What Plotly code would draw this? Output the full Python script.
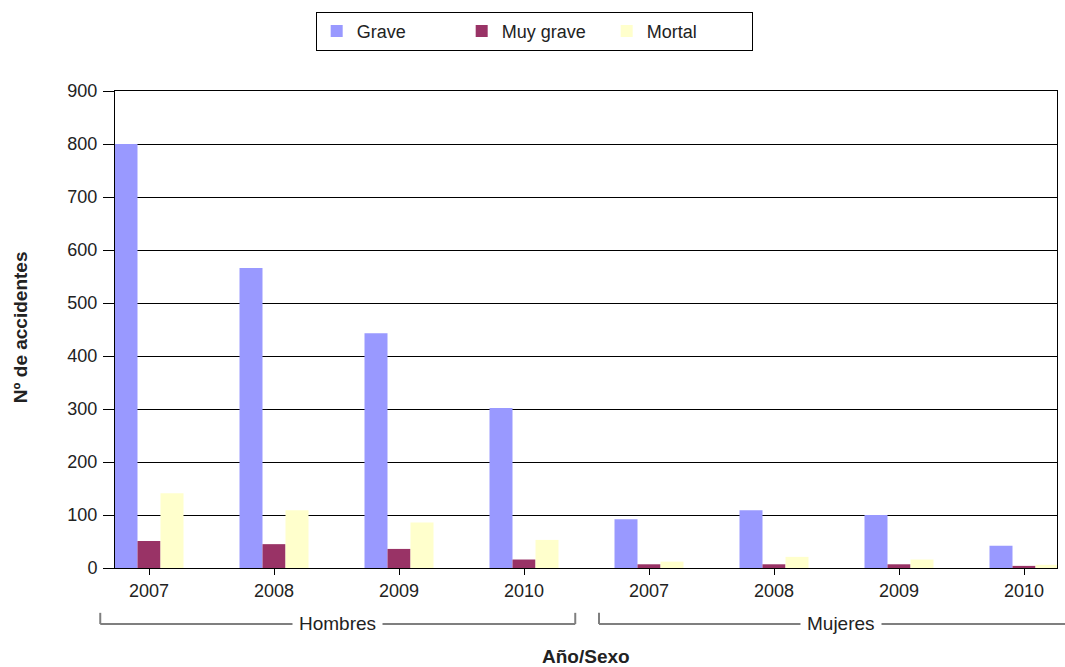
import plotly.graph_objects as go

# Data
years = ["2007", "2008", "2009", "2010", "2007", "2008", "2009", "2010"]
groups = ["Hombres", "Mujeres"]
grave = [800, 566, 443, 302, 92, 109, 100, 42]
muy_grave = [51, 45, 36, 16, 7, 7, 7, 4]
mortal = [141, 109, 86, 53, 12, 21, 16, 6]

series_names = ["Grave", "Muy grave", "Mortal"]
series_colors = ["#9999FF", "#993366", "#FFFFCC"]

x = list(range(len(years)))
FONT = "Liberation Sans, Arial, sans-serif"

fig = go.Figure()
for name, vals, col in zip(series_names, [grave, muy_grave, mortal], series_colors):
    fig.add_trace(go.Bar(name=name, x=x, y=vals, marker=dict(color=col, line=dict(width=0))))

xr = [-0.272, 7.264]

def xp(v):
    return (v - xr[0]) / (xr[1] - xr[0])

shapes = []
annotations = []
gray = "#7f7f7f"
ytop, ybot = -0.094, -0.1174
hl, hr = xp(-0.39), xp(3.41)
ml, mr = xp(3.60), 1.02
for (l, r, showr) in [(hl, hr, True), (ml, mr, False)]:
    shapes.append(dict(type="line", xref="paper", yref="paper", x0=l, x1=r, y0=ybot, y1=ybot,
                       line=dict(color=gray, width=2)))
    shapes.append(dict(type="line", xref="paper", yref="paper", x0=l, x1=l, y0=ytop, y1=ybot,
                       line=dict(color=gray, width=2)))
    if showr:
        shapes.append(dict(type="line", xref="paper", yref="paper", x0=r, x1=r, y0=ytop, y1=ybot,
                           line=dict(color=gray, width=2)))
center_h = (hl + hr) / 2
center_m = xp(5.5) + 0.005
for lab, cx in [(groups[0], center_h), (groups[1], center_m)]:
    annotations.append(dict(text=lab, xref="paper", yref="paper", x=cx, y=ybot,
                            showarrow=False, bgcolor="white", font=dict(size=19, color="#222"),
                            xanchor="center", yanchor="middle", borderpad=6))
annotations.append(dict(text="<b>Año/Sexo</b>", xref="paper", yref="paper", x=0.5, y=-0.186,
                        showarrow=False, font=dict(size=19, color="#222"),
                        xanchor="center", yanchor="middle"))
annotations.append(dict(text="<b>Nº de accidentes</b>", xref="paper", yref="paper", x=-0.1008, y=0.505,
                        showarrow=False, font=dict(size=19, color="#222"), textangle=-90,
                        xanchor="center", yanchor="middle"))

fig.update_layout(
    width=1065, height=667,
    margin=dict(l=115, r=8, t=91, b=99),
    paper_bgcolor="white", plot_bgcolor="white",
    font=dict(family=FONT, size=18, color="#222"),
    barmode="group", bargap=0.448, bargroupgap=0,
    showlegend=True,
    legend=dict(orientation="h", x=0.445, xanchor="center", y=1.166, yanchor="top",
                bordercolor="black", borderwidth=1, bgcolor="white",
                entrywidth=100, entrywidthmode="pixels",
                font=dict(size=18, color="#222"), itemsizing="constant",
                traceorder="normal"),
    shapes=shapes, annotations=annotations,
)
fig.update_xaxes(range=xr, tickvals=x, ticktext=years, showgrid=False, zeroline=False,
                 showline=True, linecolor="black", linewidth=1, mirror=True,
                 ticks="outside", ticklen=6, tickcolor="black", tickfont=dict(size=18))
fig.update_yaxes(range=[0, 900], dtick=100, showgrid=True, gridcolor="black", gridwidth=1,
                 zeroline=False, showline=True, linecolor="black", linewidth=1, mirror=True,
                 ticks="outside", ticklen=11, tickcolor="black", tickfont=dict(size=18),
                 ticklabelstandoff=2)

fig.write_html("out.html", config={"displayModeBar": False},
               post_script="document.body.style.margin='0';document.body.style.overflow='hidden';")
